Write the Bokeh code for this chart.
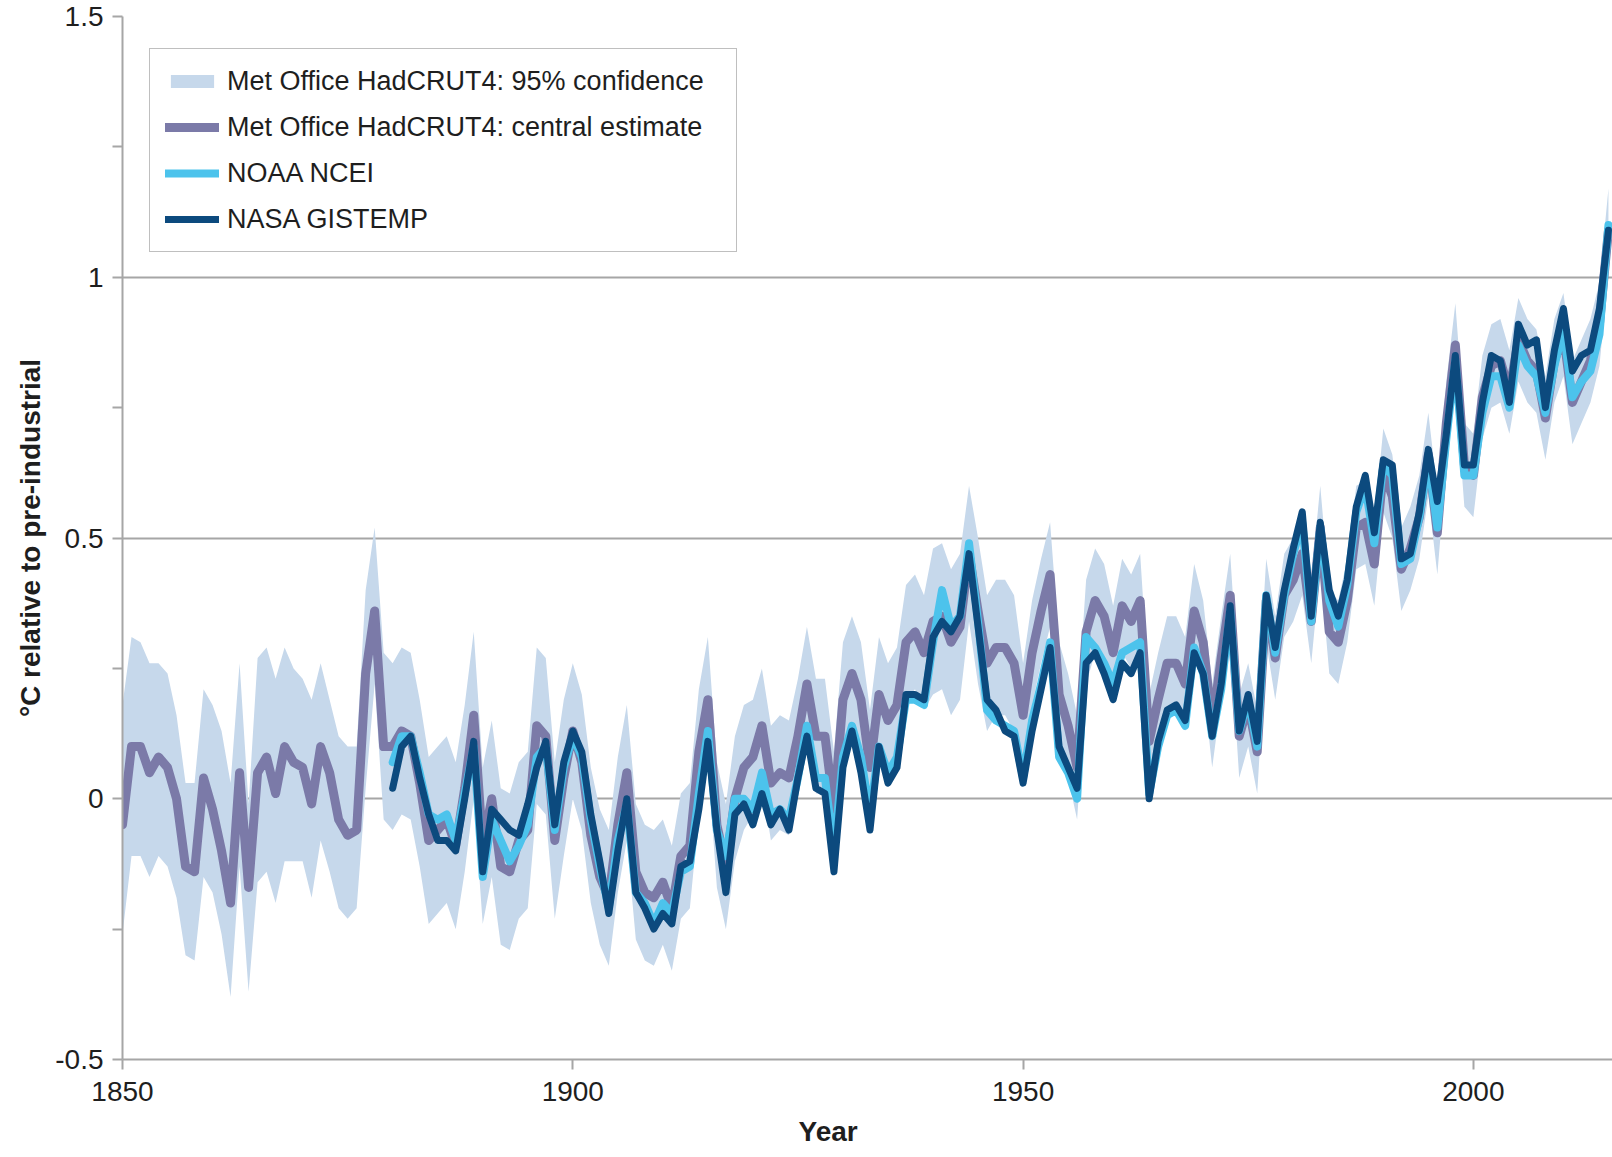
from bokeh.plotting import figure
from bokeh.models import FixedTicker, Title
from bokeh.embed import file_html
from bokeh.resources import INLINE

years = list(range(1850, 2016))
years_noaa = list(range(1880, 2016))
years_nasa = list(range(1880, 2016))

hadcrut_central = [
    -0.05, 0.10, 0.10, 0.05, 0.08, 0.06, 0.00, -0.13, -0.14, 0.04,
    -0.02, -0.10, -0.20, 0.05, -0.17, 0.05, 0.08, 0.01, 0.10, 0.07,
    0.06, -0.01, 0.10, 0.05, -0.04, -0.07, -0.06, 0.24, 0.36, 0.10,
    0.10, 0.13, 0.12, 0.03, -0.08, -0.06, -0.04, -0.09, 0.02, 0.16,
    -0.09, 0.00, -0.13, -0.14, -0.08, -0.06, 0.14, 0.12, -0.08, 0.04,
    0.13, 0.07, -0.07, -0.15, -0.19, -0.05, 0.05, -0.14, -0.18, -0.19,
    -0.16, -0.21, -0.11, -0.09, 0.09, 0.19, -0.05, -0.13, 0.00, 0.06,
    0.08, 0.14, 0.03, 0.05, 0.04, 0.12, 0.22, 0.12, 0.12, -0.02,
    0.19, 0.24, 0.19, 0.06, 0.20, 0.15, 0.18, 0.30, 0.32, 0.28,
    0.34, 0.35, 0.30, 0.33, 0.47, 0.36, 0.26, 0.29, 0.29, 0.26,
    0.16, 0.28, 0.36, 0.43, 0.20, 0.14, 0.06, 0.32, 0.38, 0.35,
    0.28, 0.37, 0.34, 0.38, 0.11, 0.19, 0.26, 0.26, 0.22, 0.36,
    0.30, 0.14, 0.27, 0.39, 0.12, 0.18, 0.09, 0.38, 0.27, 0.39,
    0.42, 0.47, 0.34, 0.52, 0.32, 0.30, 0.38, 0.52, 0.53, 0.45,
    0.63, 0.58, 0.44, 0.48, 0.54, 0.66, 0.51, 0.72, 0.87, 0.64,
    0.62, 0.77, 0.83, 0.84, 0.78, 0.88, 0.84, 0.82, 0.73, 0.84,
    0.89, 0.76, 0.80, 0.84, 0.91, 1.09,
]

hadcrut_upper = [
    0.18, 0.31, 0.30, 0.26, 0.26, 0.24, 0.16, 0.03, 0.03, 0.21,
    0.18, 0.13, 0.03, 0.26, -0.01, 0.27, 0.29, 0.23, 0.29, 0.25,
    0.23, 0.19, 0.26, 0.19, 0.12, 0.10, 0.10, 0.40, 0.52, 0.28,
    0.26, 0.29, 0.28, 0.19, 0.08, 0.10, 0.12, 0.07, 0.18, 0.32,
    0.06, 0.15, 0.02, 0.01, 0.07, 0.09, 0.29, 0.27, 0.07, 0.19,
    0.26, 0.20, 0.06, -0.02, -0.06, 0.08, 0.18, -0.01, -0.05, -0.06,
    -0.04, -0.09, 0.01, 0.03, 0.21, 0.31, 0.07, -0.01, 0.12, 0.18,
    0.19, 0.25, 0.14, 0.16, 0.15, 0.23, 0.33, 0.23, 0.23, 0.09,
    0.30, 0.35, 0.30, 0.17, 0.31, 0.26, 0.29, 0.41, 0.43, 0.39,
    0.48, 0.49, 0.44, 0.47, 0.60, 0.50, 0.39, 0.42, 0.42, 0.39,
    0.26, 0.38, 0.46, 0.53, 0.30, 0.24, 0.16, 0.42, 0.48, 0.45,
    0.37, 0.46, 0.43, 0.47, 0.20, 0.28, 0.35, 0.35, 0.31, 0.45,
    0.38, 0.22, 0.35, 0.47, 0.20, 0.26, 0.17, 0.46, 0.35, 0.47,
    0.50, 0.55, 0.42, 0.60, 0.40, 0.38, 0.46, 0.60, 0.61, 0.53,
    0.71, 0.66, 0.52, 0.56, 0.62, 0.74, 0.59, 0.80, 0.95, 0.72,
    0.70, 0.85, 0.91, 0.92, 0.86, 0.96, 0.92, 0.90, 0.81, 0.92,
    0.97, 0.84, 0.88, 0.92, 0.99, 1.17,
]

hadcrut_lower = [
    -0.26, -0.11, -0.11, -0.15, -0.11, -0.13, -0.19, -0.30, -0.31, -0.15,
    -0.18, -0.26, -0.38, -0.13, -0.37, -0.16, -0.14, -0.20, -0.12, -0.12,
    -0.12, -0.19, -0.08, -0.14, -0.21, -0.23, -0.21, 0.02, 0.22, -0.04,
    -0.06, -0.03, -0.04, -0.13, -0.24, -0.22, -0.20, -0.25, -0.14, 0.00,
    -0.24, -0.15, -0.28, -0.29, -0.23, -0.21, -0.01, -0.03, -0.23, -0.11,
    0.00, -0.06, -0.20, -0.28, -0.32, -0.18, -0.08, -0.27, -0.31, -0.32,
    -0.28, -0.33, -0.23, -0.21, -0.03, 0.07, -0.17, -0.25, -0.12, -0.06,
    -0.03, 0.03, -0.08, -0.06, -0.07, 0.01, 0.11, 0.01, 0.01, -0.13,
    0.08, 0.13, 0.08, -0.05, 0.09, 0.04, 0.07, 0.19, 0.21, 0.17,
    0.20, 0.21, 0.16, 0.19, 0.34, 0.22, 0.13, 0.16, 0.16, 0.13,
    0.06, 0.18, 0.26, 0.33, 0.10, 0.04, -0.04, 0.22, 0.28, 0.25,
    0.19, 0.28, 0.25, 0.29, 0.02, 0.10, 0.17, 0.17, 0.13, 0.27,
    0.22, 0.06, 0.19, 0.31, 0.04, 0.10, 0.01, 0.30, 0.19, 0.31,
    0.34, 0.39, 0.26, 0.44, 0.24, 0.22, 0.30, 0.44, 0.45, 0.37,
    0.55, 0.50, 0.36, 0.40, 0.46, 0.58, 0.43, 0.64, 0.79, 0.56,
    0.54, 0.69, 0.75, 0.76, 0.70, 0.80, 0.76, 0.74, 0.65, 0.76,
    0.81, 0.68, 0.72, 0.76, 0.83, 1.01,
]

noaa = [
    0.07, 0.12, 0.12, 0.05, -0.03, -0.04, -0.03, -0.08, 0.01, 0.10,
    -0.15, -0.04, -0.08, -0.12, -0.09, -0.05, 0.08, 0.10, -0.06, 0.06,
    0.12, 0.08, -0.04, -0.13, -0.21, -0.08, -0.01, -0.18, -0.20, -0.24,
    -0.20, -0.22, -0.14, -0.13, 0.01, 0.13, -0.06, -0.11, 0.00, 0.00,
    -0.02, 0.05, -0.03, -0.02, -0.04, 0.04, 0.14, 0.04, 0.04, -0.10,
    0.08, 0.14, 0.08, -0.03, 0.10, 0.05, 0.08, 0.19, 0.19, 0.18,
    0.30, 0.40, 0.33, 0.35, 0.49, 0.34, 0.17, 0.15, 0.14, 0.13,
    0.04, 0.15, 0.22, 0.30, 0.08, 0.05, 0.00, 0.31, 0.29, 0.26,
    0.22, 0.28, 0.29, 0.30, 0.01, 0.10, 0.16, 0.17, 0.14, 0.29,
    0.24, 0.12, 0.21, 0.36, 0.13, 0.19, 0.10, 0.39, 0.28, 0.39,
    0.47, 0.53, 0.34, 0.52, 0.38, 0.33, 0.41, 0.55, 0.60, 0.49,
    0.64, 0.62, 0.45, 0.46, 0.54, 0.65, 0.52, 0.69, 0.84, 0.62,
    0.62, 0.74, 0.81, 0.81, 0.75, 0.87, 0.83, 0.81, 0.74, 0.83,
    0.90, 0.77, 0.80, 0.82, 0.89, 1.10,
]

nasa = [
    0.02, 0.10, 0.12, 0.04, -0.03, -0.08, -0.08, -0.10, 0.00, 0.11,
    -0.14, -0.02, -0.04, -0.06, -0.07, -0.01, 0.06, 0.11, -0.05, 0.07,
    0.13, 0.09, -0.03, -0.12, -0.22, -0.10, 0.00, -0.18, -0.21, -0.25,
    -0.22, -0.24, -0.13, -0.12, -0.02, 0.11, -0.06, -0.18, -0.03, -0.01,
    -0.05, 0.01, -0.05, -0.02, -0.06, 0.04, 0.12, 0.02, 0.01, -0.14,
    0.06, 0.13, 0.05, -0.06, 0.10, 0.03, 0.06, 0.20, 0.20, 0.19,
    0.31, 0.34, 0.32, 0.35, 0.47, 0.33, 0.19, 0.17, 0.13, 0.12,
    0.03, 0.13, 0.21, 0.29, 0.10, 0.06, 0.02, 0.26, 0.28, 0.24,
    0.19, 0.26, 0.24, 0.28, 0.00, 0.11, 0.17, 0.18, 0.15, 0.28,
    0.24, 0.12, 0.22, 0.37, 0.13, 0.20, 0.11, 0.39, 0.29, 0.40,
    0.48, 0.55, 0.35, 0.53, 0.40, 0.35, 0.42, 0.56, 0.62, 0.51,
    0.65, 0.64, 0.46, 0.47, 0.55, 0.67, 0.57, 0.70, 0.85, 0.64,
    0.64, 0.76, 0.85, 0.84, 0.76, 0.91, 0.87, 0.88, 0.75, 0.86,
    0.94, 0.82, 0.85, 0.86, 0.94, 1.09,
]

x_ticks = [1850, 1900, 1950, 2000]
y_ticks = [-0.5, 0, 0.5, 1, 1.5]
y_minor_ticks = [-0.25, 0.25, 0.75, 1.25]
y_tick_labels = {-0.5: "-0.5", 0: "0", 0.5: "0.5", 1: "1", 1.5: "1.5"}

FONT = "Liberation Sans"
TXT = "#1e1e1e"
GRID = "#a6a6a6"

p = figure(width=1612, height=1157, x_range=(1850, 2015.45), y_range=(-0.5, 1.5),
           output_backend="svg", toolbar_location=None,
           min_border_left=122, min_border_right=0, min_border_top=16, min_border_bottom=96)
p.outline_line_color = None
p.background_fill_color = "white"
p.border_fill_color = "white"

p.varea(x=years, y1=hadcrut_lower, y2=hadcrut_upper, fill_color="#c6d8eb", fill_alpha=1.0,
        legend_label="Met Office HadCRUT4: 95% confidence")
p.line(years, hadcrut_central, line_width=9, line_color="#7b7aa8", line_join="round", line_cap="round",
       legend_label="Met Office HadCRUT4: central estimate")
p.line(years_noaa, noaa, line_width=8, line_color="#4cc3ec", line_join="round", line_cap="round",
       legend_label="NOAA NCEI")
p.line(years_nasa, nasa, line_width=7, line_color="#0c4a7e", line_join="round", line_cap="round",
       legend_label="NASA GISTEMP")

# axes
p.xaxis.ticker = FixedTicker(ticks=x_ticks)
p.yaxis.ticker = FixedTicker(ticks=y_ticks, minor_ticks=y_minor_ticks)
p.yaxis.major_label_overrides = y_tick_labels
for ax in (p.xaxis[0], p.yaxis[0]):
    ax.axis_line_color = GRID
    ax.axis_line_width = 2
    ax.major_tick_line_color = GRID
    ax.major_tick_line_width = 2
    ax.major_tick_out = 10
    ax.major_tick_in = 0
    ax.minor_tick_line_color = GRID
    ax.minor_tick_line_width = 2
    ax.minor_tick_out = 10
    ax.minor_tick_in = 0
    ax.major_label_text_font = FONT
    ax.major_label_text_font_size = "28px"
    ax.major_label_text_color = TXT
p.xaxis.minor_tick_line_color = None
p.xaxis.major_label_standoff = 12
p.yaxis.major_label_standoff = 9

p.yaxis.axis_label = "°C relative to pre-industrial"
p.yaxis.axis_label_text_font = FONT
p.yaxis.axis_label_text_font_style = "bold"
p.yaxis.axis_label_text_font_size = "28px"
p.yaxis.axis_label_text_color = TXT
p.yaxis.axis_label_standoff = 6

p.xgrid.grid_line_color = None
p.ygrid.grid_line_color = GRID
p.ygrid.grid_line_width = 2

year_title = Title(text="Year", align="left", offset=676, standoff=21,
                   text_font=FONT, text_font_style="bold", text_font_size="28px", text_color=TXT)
p.add_layout(year_title, "below")

lg = p.legend[0]
lg.location = (27, 807)
lg.margin = 0
lg.padding = 15
lg.spacing = 12
lg.label_height = 34
lg.label_width = 494
lg.glyph_height = 16
lg.glyph_width = 54
lg.label_standoff = 8
lg.label_text_font = FONT
lg.label_text_font_size = "27px"
lg.label_text_color = TXT
lg.border_line_color = "#808080"
lg.border_line_width = 1.5
lg.background_fill_color = "white"
lg.background_fill_alpha = 1.0

open("out.html", "w").write(file_html(p, INLINE))
